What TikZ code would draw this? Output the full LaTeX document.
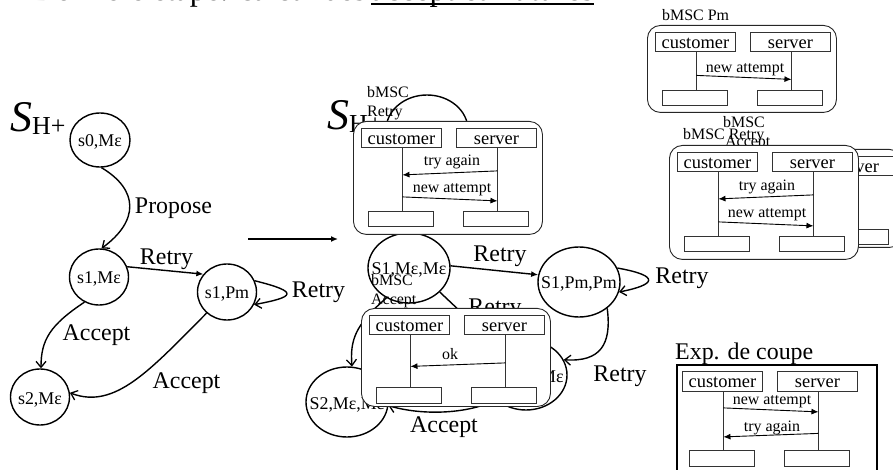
\documentclass[tikz,border=0pt]{standalone}
\usepackage{fontspec}
\setmainfont{Liberation Serif}
\usetikzlibrary{arrows.meta,shapes.geometric}
\newcommand\fsz[1]{\fontsize{#1}{#1}\selectfont}
\newcommand\lbl[1]{\makebox[0pt]{#1}}
\tikzset{
  x=1bp,y=-1bp,
  st/.style={ellipse,draw,line width=1.4bp,inner sep=0pt,minimum width=#1,text height=14bp,text depth=0pt},
  stS/.style={st=59bp,minimum height=56bp,font=\fsz{18}},
  stB/.style={st=82bp,minimum height=70bp,font=\fsz{18}},
  edge/.style={line width=1.4bp,-{Straight Barb[length=6bp,width=10bp,line width=1.3bp]}},
  fedge/.style={line width=1.4bp,-{Latex[length=7bp,width=6bp]}},
  txt/.style={inner sep=0pt,font=\fsz{24}},
  small/.style={inner sep=0pt,font=\fsz{16}},
  mbox/.style={draw=black!85,line width=.9bp,rounded corners=13bp,fill=white,inner sep=0pt,anchor=north west,minimum width=189bp},
  actor/.style={draw=black!80,line width=.9bp,fill=white,inner sep=0pt,minimum width=80bp,minimum height=19bp,text height=15bp,text depth=2bp,font=\fsz{18.5},anchor=north west},
  endbox/.style={draw=black!80,line width=.9bp,fill=white,inner sep=0pt,minimum width=65bp,minimum height=15.5bp,anchor=north west},
  life/.style={line width=.9bp,draw=black!80},
  msg/.style={line width=.9bp,-{Latex[length=7bp,width=6bp]}},
}
% prefix, x0, y0, top of the end boxes relative to y0
\newcommand\mscparts[4]{%
  \node[endbox] (#1cb) at (#2+15,#3+#4) {};
  \node[endbox] (#1sb) at (#2+110,#3+#4) {};
  \node[actor] (#1c) at (#2+8,#3+7.5) {customer};
  \node[actor] (#1s) at (#2+103,#3+7.5) {server};
  \draw[life] ([xshift=1bp]#1c.south) -- ([xshift=1bp]#1c.south |- #1cb.north);
  \draw[life] ([xshift=1bp]#1s.south) -- ([xshift=1bp]#1s.south |- #1sb.north);
}
\begin{document}
\begin{tikzpicture}
\useasboundingbox (0,0) rectangle (893,470);
\clip (0,0) rectangle (893,470);

% clipped headline
\node[inner sep=0pt,anchor=base west,font=\fsz{32}] (head) at (33,1) {Dernière étape: calcul des};
\node[inner sep=0pt,anchor=base west,font=\fsz{33}] (headu) at (371,1) {accept et Futures};
\draw[line width=2bp] ([yshift=-3bp]headu.base west) -- ([yshift=-3bp]headu.base east);

% left automaton
\node[inner sep=0pt,anchor=base west] (shp) at (10,132) {{\fsz{44}\itshape S}\raisebox{-3bp}{\fsz{26}H+}};
\node[stS,minimum width=60bp,minimum height=54bp] (s0) at (100,140) {\lbl{s0,Mε}};
\node[stS] (s1) at (99,277) {\lbl{s1,Mε}};
\node[stS] (p1) at (227,292) {\lbl{s1,Pm}};
\node[stS] (s2) at (40,397) {\lbl{s2,Mε}};
\draw[edge] (s0.-87) .. controls (139,190) and (139,221) .. (s1.85);
\draw[fedge] (s1.20) -- (p1.143);
\draw[edge] (p1.22) .. controls (300,292) and (295,297) .. (p1.-25);
\draw[edge] (s1.240) .. controls (50,325) and (41,340) .. (s2.88);
\draw[edge] (p1.226) .. controls (150,370) and (115,410) .. (s2.8);
\node[txt] (lprop) at (173.5,208) {Propose};
\node[txt] (lr1) at (166.5,259) {Retry};
\node[txt] (lr2) at (318.5,292) {Retry};
\node[txt] (la1) at (96.5,335) {Accept};
\node[txt] (la2) at (186.5,383) {Accept};

% transformation arrow
\coordinate (ta) at (248,239);
\coordinate (tb) at (338,239);
\draw[line width=1.4bp,-{Latex[length=7bp,width=6bp]}] (ta) -- (tb);

% middle automaton
\node[stB] (m0) at (427,130) {};
\node[inner sep=0pt,anchor=base west] (sh) at (327,130) {{\fsz{44}\itshape S}\raisebox{-3bp}{\fsz{26}H+}};
\node[stB] (m1) at (409,268) {\lbl{S1,Mε,Mε}};
\node[stB] (m2) at (579,282) {\lbl{S1,Pm,Pm}};
\node[stB] (m3) at (526,375) {\lbl{S1,Pm,Mε}};
\node[stB] (m4) at (347,402) {\lbl{S2,Mε,Mε}};
\draw[fedge] (m1.3) -- (m2.170);
\draw[edge] (m2.20) .. controls (662,276) and (655,285) .. (m2.-14);
\draw[edge] (m1.-38) -- (m3.135);
\draw[edge] (m2.-43) .. controls (612,345) and (600,362) .. (m3.22);
\draw[edge] (m1.233) .. controls (355,325) and (350,340) .. (m4.82);
\draw[edge] (m3.220) .. controls (465,415) and (420,415) .. (m4.-5);
\node[txt] (lr3) at (500,256) {Retry};
\node[txt] (lr4) at (682,278) {Retry};
\node[txt] (lr5) at (495,309) {Retry};
\node[txt] (lr6) at (620,376) {Retry};
\node[txt] (la3) at (444,427) {Accept};

% bMSC Retry over the automaton
\node[mbox,minimum height=113bp] (Rb) at (353,121) {};
\mscparts{R}{353}{121}{90}
\draw[msg] ([xshift=1bp,yshift=-22.5bp]Rs.south) -- ([xshift=1bp,yshift=-26.5bp]Rc.south);
\draw[msg] ([xshift=1bp,yshift=-48.5bp]Rc.south) -- ([xshift=1bp,yshift=-52.5bp]Rs.south);
\node[small] (Rm1) at (452,162) {try again};
\node[small] (Rm2) at (452,190) {new attempt};
\node[small,anchor=base west] (Rt1) at (367,98) {bMSC};
\node[small,anchor=base west] (Rt2) at (367,117) {Retry};

% bMSC Accept over the automaton
\node[mbox,minimum height=98bp] (Ab) at (361,308) {};
\mscparts{A}{361}{308}{79}
\draw[msg] ([xshift=1bp,yshift=-27.5bp]As.south) -- ([xshift=1bp,yshift=-31bp]Ac.south);
\node[small] (Am1) at (450,354) {ok};
\node[small,anchor=base west] (At1) at (371,286) {bMSC};
\node[small,anchor=base west] (At2) at (371,305) {Accept};

% bMSC Pm
\node[small,anchor=base west] (Pt) at (662,21) {bMSC Pm};
\node[mbox,minimum height=87bp] (Pb) at (647,25) {};
\mscparts{P}{647}{25}{65}
\draw[msg] ([xshift=1bp,yshift=-23bp]Pc.south) -- ([xshift=1bp,yshift=-27bp]Ps.south);
\node[small] (Pm1) at (745,70) {new attempt};

% right column: Accept behind Retry
\node[small,anchor=base west] (Xt1) at (723,128) {bMSC};
\node[small,anchor=base west] (Xt2) at (725,147) {Accept};
\node[mbox,minimum height=98bp] (Xb) at (713,149) {};
\mscparts{X}{713}{149}{80}
\node[small,anchor=base west] (Yt) at (683,140) {bMSC Retry};
\node[mbox,minimum height=114bp] (Yb) at (669,145) {};
\mscparts{Y}{669}{145}{91}
\draw[msg] ([xshift=1bp,yshift=-22.5bp]Ys.south) -- ([xshift=1bp,yshift=-26.5bp]Yc.south);
\draw[msg] ([xshift=1bp,yshift=-49.5bp]Yc.south) -- ([xshift=1bp,yshift=-53.5bp]Ys.south);
\node[small] (Ym1) at (767,187) {try again};
\node[small] (Ym2) at (767,215) {new attempt};

% Exp. de coupe
\node[txt,anchor=base west] (Et) at (675,360) {Exp. de coupe};
\node[draw,line width=1.6bp,inner sep=0pt,anchor=north west,minimum width=200bp,minimum height=120bp] (Eb) at (676,364) {};
\mscparts{E}{674}{364}{86}
\draw[msg] ([xshift=1bp,yshift=-16.5bp]Ec.south) -- ([xshift=1bp,yshift=-20.5bp]Es.south);
\draw[msg] ([xshift=1bp,yshift=-42bp]Es.south) -- ([xshift=1bp,yshift=-45.5bp]Ec.south);
\node[small] (Em1) at (772,402) {new attempt};
\node[small] (Em2) at (772,428) {try again};
\end{tikzpicture}
\end{document}
